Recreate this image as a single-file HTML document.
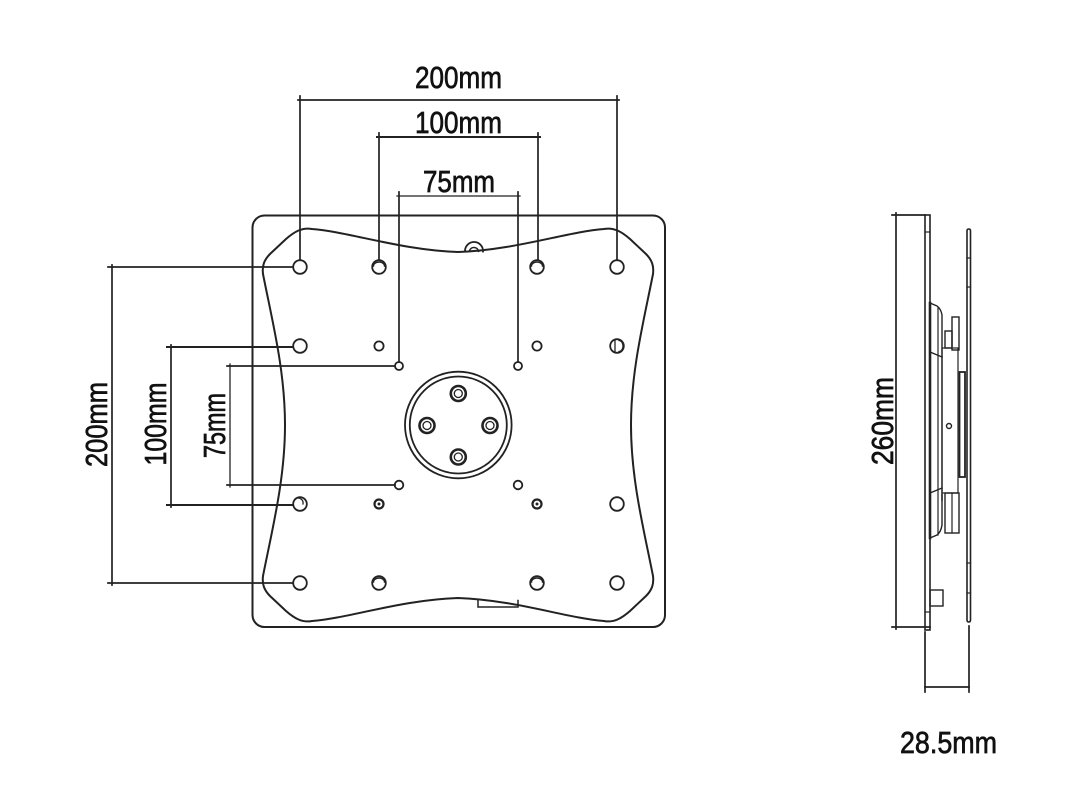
<!DOCTYPE html>
<html><head><meta charset="utf-8"><style>
html,body{margin:0;padding:0;background:#fff;}
svg{display:block;}
text{font-family:"Liberation Sans",Arial,sans-serif;fill:#111;stroke:#111;stroke-width:0.7;}
</style></head><body>
<svg width="1080" height="810" viewBox="0 0 1080 810" xmlns="http://www.w3.org/2000/svg">
<rect width="1080" height="810" fill="#fff"/>
<g fill="none" stroke="#222" stroke-width="1.7" stroke-linecap="square">
  <!-- outer plate -->
  <rect x="252.5" y="215.5" width="412.5" height="411.5" rx="12" stroke-width="2"/>
  <!-- inner shaped plate -->
  <path stroke-width="2" d="M458,252 C400,250 350,232 312,229 C302,227 294,232 286,239 L270,254 C264,260 262,266 263,274 C272,320 285,370 285,425 C285,480 272,530 263,576 C262,584 264,590 270,596 L286,611 C294,618 302,623 312,621 C350,618 400,600 458,598 C516,600 566,618 604,621 C614,623 622,618 630,611 L646,596 C652,590 654,584 653,576 C644,530 631,480 631,425 C631,370 644,320 653,274 C654,266 652,260 646,254 L630,239 C622,232 614,227 604,229 C566,232 516,250 458,252 Z"/>
  <!-- top mount tab -->
  <path d="M465,250.5 A9,9 0 0 1 483,251.5" stroke-width="1.8"/>
  <path d="M469.5,251 A4.6,4.6 0 0 1 478.5,251.3" stroke-width="1.6"/>
  <!-- bottom tab -->
  <path d="M478,599.5 L478,607 L518,607 L518,600.5" stroke-width="1.5"/>

  <!-- top dimension lines -->
  <line x1="300" y1="96" x2="300" y2="260"/>
  <line x1="617" y1="96" x2="617" y2="260"/>
  <line x1="298" y1="100" x2="619" y2="100"/>
  <line x1="379" y1="133" x2="379" y2="260"/>
  <line x1="538" y1="133" x2="538" y2="260"/>
  <line x1="377" y1="137" x2="540" y2="137" stroke-width="2"/>
  <line x1="399" y1="192" x2="399" y2="362"/>
  <line x1="518" y1="192" x2="518" y2="362"/>
  <line x1="397" y1="196" x2="520" y2="196" stroke-width="1.3"/>

  <!-- left dimension lines -->
  <line x1="108" y1="267" x2="293" y2="267"/>
  <line x1="108" y1="583" x2="293" y2="583"/>
  <line x1="112" y1="265" x2="112" y2="585"/>
  <line x1="167" y1="347" x2="293" y2="347" stroke-width="2"/>
  <line x1="167" y1="505" x2="293" y2="505" stroke-width="2"/>
  <line x1="171" y1="345" x2="171" y2="507"/>
  <line x1="227" y1="366" x2="395" y2="366"/>
  <line x1="227" y1="485" x2="395" y2="485"/>
  <line x1="230" y1="364" x2="230" y2="487" stroke-width="1.3"/>

  <!-- holes -->
  <g stroke-width="1.8">
    <circle cx="300" cy="267" r="6.8"/>
    <circle cx="379" cy="267" r="6.8"/>
    <path d="M373.5,266 A5.5,4 0 0 1 384.5,266" stroke-width="1.4"/>
    <circle cx="537" cy="267" r="6.8"/>
    <path d="M531.5,266 A5.5,4 0 0 1 542.5,266" stroke-width="1.4"/>
    <circle cx="617" cy="267" r="6.8"/>

    <circle cx="300" cy="346" r="6.8"/>
    <circle cx="379" cy="346" r="4.6"/>
    <circle cx="537" cy="346" r="4.6"/>
    <circle cx="617" cy="346" r="6.8"/>
    <path d="M615,340 L615,352 M619,340.5 A4,5.5 0 0 1 619,351.5" stroke-width="1.3"/>

    <circle cx="399" cy="366" r="4"/>
    <circle cx="518" cy="366" r="4"/>
    <circle cx="399" cy="485" r="4.3"/>
    <circle cx="518" cy="485" r="4.3"/>

    <circle cx="300" cy="504" r="6.8"/>
    <path d="M296,498.5 A5,5 0 0 1 303,504" stroke-width="1.3"/>
    <circle cx="379" cy="504" r="4.5" stroke-width="2.2"/>
    <circle cx="379" cy="504" r="1.5" fill="#222" stroke="none"/>
    <circle cx="537" cy="504" r="4.5" stroke-width="2.2"/>
    <circle cx="537" cy="504" r="1.5" fill="#222" stroke="none"/>
    <circle cx="617" cy="504" r="6.8"/>

    <circle cx="300" cy="583" r="6.8"/>
    <circle cx="379" cy="583" r="6.8"/>
    <path d="M373.5,582 A5.5,4 0 0 1 384.5,582" stroke-width="1.4"/>
    <circle cx="537" cy="583" r="6.8"/>
    <path d="M531.5,582 A5.5,4 0 0 1 542.5,582" stroke-width="1.4"/>
    <circle cx="617" cy="583" r="6.8"/>
  </g>

  <!-- center circle -->
  <circle cx="458.3" cy="425" r="53.3" stroke-width="1.8"/>
  <circle cx="458.3" cy="425" r="48.5" stroke-width="1.8"/>
  <g stroke-width="2.6">
    <circle cx="458.3" cy="393.5" r="7.5"/>
    <circle cx="427" cy="425.5" r="7.5"/>
    <circle cx="490" cy="425.5" r="7.5"/>
    <circle cx="458.3" cy="457" r="7.5"/>
  </g>
  <g stroke-width="1.3">
    <circle cx="458.3" cy="393.5" r="4"/>
    <circle cx="427" cy="425.5" r="4"/>
    <circle cx="490" cy="425.5" r="4"/>
    <circle cx="458.3" cy="457" r="4"/>
  </g>

  <!-- side view -->
  <line x1="896" y1="213" x2="896" y2="629"/>
  <line x1="892" y1="215" x2="925" y2="215"/>
  <line x1="892" y1="627" x2="930" y2="627"/>
  <rect x="925" y="215" width="5" height="415" stroke-width="1.6"/>
  <line x1="925" y1="232" x2="930" y2="232" stroke-width="1.2"/>
  <line x1="925" y1="612" x2="930" y2="612" stroke-width="1.2"/>
  <rect x="967" y="229" width="3.5" height="393" rx="1.7" stroke-width="1.6"/>
  <g stroke-width="1.2">
    <line x1="967" y1="258" x2="970.5" y2="258"/>
    <line x1="967" y1="287" x2="970.5" y2="287"/>
    <line x1="967" y1="563" x2="970.5" y2="563"/>
    <line x1="967" y1="593" x2="970.5" y2="593"/>
  </g>
  <!-- bracket -->
  <line x1="930" y1="303" x2="930" y2="538" stroke-width="2.6"/>
  <path d="M930,303 L937,306 Q941,309 942,315 L942,500" stroke-width="1.4"/>
  <line x1="938" y1="308" x2="938" y2="535" stroke-width="1.2"/>
  <path d="M930,352 L942,357" stroke-width="1.4"/>
  <path d="M930,493 L942,488" stroke-width="1.4"/>
  <path d="M930,538 L937,535 Q941,532 942,525 L942,495" stroke-width="1.4"/>
  <rect x="952" y="317" width="7" height="33" stroke-width="1.4"/>
  <rect x="945" y="331" width="7" height="17" stroke-width="1.4"/>
  <rect x="942" y="348" width="16" height="145" stroke-width="1.2"/>
  <circle cx="949" cy="426" r="2.5" stroke-width="1.4"/>
  <rect x="959.5" y="372" width="5.5" height="105" stroke-width="1.8"/>
  <rect x="945" y="493" width="14" height="40" stroke-width="1.4"/>
  <line x1="952" y1="493" x2="952" y2="533" stroke-width="1.2"/>
  <rect x="930" y="590" width="13" height="16" stroke-width="1.4"/>

  <line x1="925" y1="632" x2="925" y2="692"/>
  <line x1="969" y1="626" x2="969" y2="692"/>
  <line x1="925" y1="687" x2="969" y2="687"/>
</g>

<!-- labels -->
<g font-size="31">
  <text x="458.5" y="88" text-anchor="middle" textLength="87" lengthAdjust="spacingAndGlyphs">200mm</text>
  <text x="458.5" y="133" text-anchor="middle" textLength="87" lengthAdjust="spacingAndGlyphs">100mm</text>
  <text x="459" y="192" text-anchor="middle" textLength="72" lengthAdjust="spacingAndGlyphs">75mm</text>
  <text transform="translate(107,424.5) rotate(-90)" text-anchor="middle" textLength="85" lengthAdjust="spacingAndGlyphs">200mm</text>
  <text transform="translate(166,424) rotate(-90)" text-anchor="middle" textLength="83" lengthAdjust="spacingAndGlyphs">100mm</text>
  <text transform="translate(225,425.5) rotate(-90)" text-anchor="middle" textLength="65" lengthAdjust="spacingAndGlyphs">75mm</text>
  <text transform="translate(893,421) rotate(-90)" text-anchor="middle" textLength="88" lengthAdjust="spacingAndGlyphs">260mm</text>
  <text x="948.5" y="753" text-anchor="middle" textLength="97" lengthAdjust="spacingAndGlyphs">28.5mm</text>
</g>
</svg>
</body></html>
